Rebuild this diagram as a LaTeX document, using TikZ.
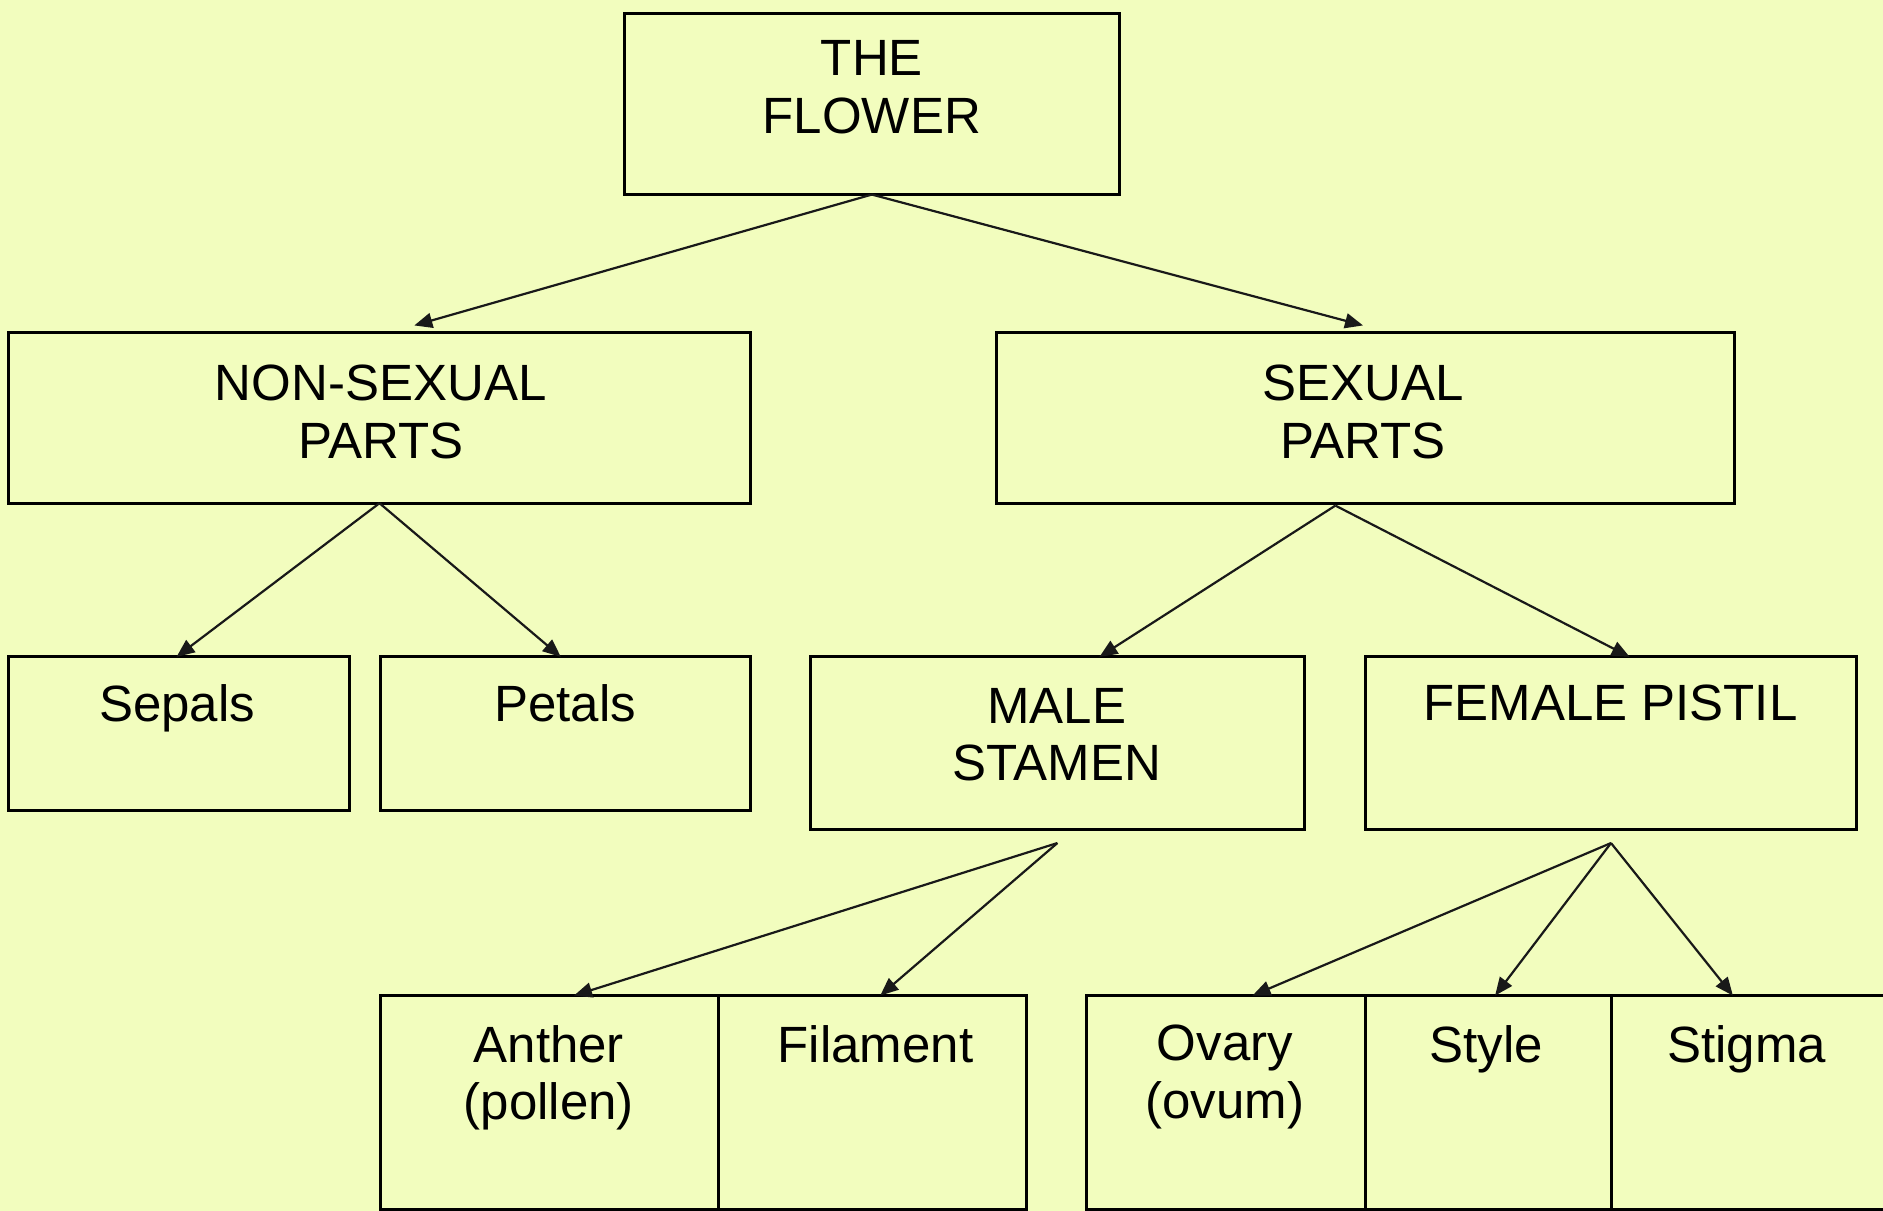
\documentclass[tikz,border=0pt]{standalone}
\usepackage{fontspec}
\setmainfont{Liberation Sans}
\usetikzlibrary{arrows.meta,calc}
\definecolor{bg}{RGB}{242,253,190}
\def\U{1.2009pt}
\begin{document}
\begin{tikzpicture}[x=1.2009pt,y=-1.2009pt,
  box/.style={draw=black, line width=3.2pt, rectangle, inner sep=0pt, outer sep=0pt},
  lbl/.style={font=\fontsize{51}{57.5}\selectfont, align=center, anchor=north, inner sep=0pt},
  arr/.style={draw=black!90, line width=2.2pt, -{Triangle[length=18pt,width=15pt]}}]
\fill[bg] (0,0) rectangle (1568,1008);
\useasboundingbox (0,0) rectangle (1568,1008);
\clip (0,0) rectangle (1568,1008);

% boxes
\node[box, minimum width=412*\U, minimum height=151*\U] (flower) at (726,86.5) {};
\node[box, minimum width=618*\U, minimum height=142*\U] (nonsex) at (316,348) {};
\node[box, minimum width=614*\U, minimum height=142*\U] (sex) at (1137,348) {};
\node[box, minimum width=284*\U, minimum height=128*\U] (sepals) at (149,611) {};
\node[box, minimum width=308*\U, minimum height=128*\U] (petals) at (471,611) {};
\node[box, minimum width=411*\U, minimum height=144*\U] (male) at (880.5,619) {};
\node[box, minimum width=409*\U, minimum height=144*\U] (female) at (1341.5,619) {};
\node[box, minimum width=281*\U, minimum height=178*\U] (anther) at (457.5,918) {};
\node[box, minimum width=257*\U, minimum height=178*\U] (filament) at (726.5,918) {};
\node[box, minimum width=232*\U, minimum height=178*\U] (ovary) at (1021,918) {};
\node[box, minimum width=205*\U, minimum height=178*\U] (style) at (1239.5,918) {};
\node[box, minimum width=248*\U, minimum height=178*\U] (stigma) at (1466,918) {};

% labels
\node[lbl] (tflower) at (726,33.5) {THE\\FLOWER};
\node[lbl] (tnonsex) at (317,304) {NON-SEXUAL\\PARTS};
\node[lbl] (tsex) at (1135,304) {SEXUAL\\PARTS};
\node[lbl] (tsepals) at (147.5,570) {Sepals};
\node[lbl] (tpetals) at (470.5,570) {Petals};
\node[lbl] (tmale) at (880,573) {MALE\\STAMEN};
\node[lbl] (tfemale) at (1341,570) {FEMALE PISTIL};
\node[lbl] (tanther) at (457,853.5) {Anther\\(pollen)};
\node[lbl] (tfilament) at (729,853.5) {Filament};
\node[lbl] (tovary) at (1020,853.5) {Ovary\\(ovum)};
\node[lbl] (tstyle) at (1237.5,853.5) {Style};
\node[lbl] (tstigma) at (1454.5,853.5) {Stigma};

% apex points
\coordinate (sexapex) at ($(sex.south)+(-25,2)$);
\coordinate (maleapex) at ($(male.south)+(0,11)$);
\coordinate (femaleapex) at ($(female.south)+(0,11)$);

% connectors
\draw[arr] (flower.south) -- ($(nonsex.north)+(29,-6)$);
\draw[arr] (flower.south) -- ($(sex.north)+(-2,-6)$);
\draw[arr] (nonsex.south) -- ($(sepals.north)+(-2,0)$);
\draw[arr] (nonsex.south) -- ($(petals.north)+(-4,0)$);
\draw[arr] (sexapex) -- ($(male.north)+(35,0)$);
\draw[arr] (sexapex) -- ($(female.north)+(15.5,0)$);
\draw[arr] (maleapex) -- ($(anther.north)+(20.5,0)$);
\draw[arr] (maleapex) -- ($(filament.north)+(6.5,0)$);
\draw[arr] (femaleapex) -- ($(ovary.north)+(22,0)$);
\draw[arr] (femaleapex) -- ($(style.north)+(5.5,0)$);
\draw[arr] (femaleapex) -- ($(stigma.north)+(-23,0)$);
\end{tikzpicture}
\end{document}
